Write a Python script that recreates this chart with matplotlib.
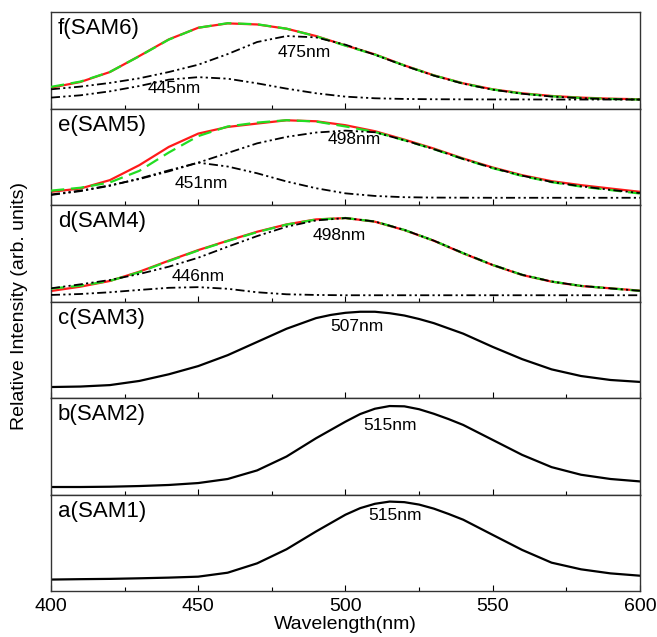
import numpy as np
import matplotlib
matplotlib.use("Agg")
import matplotlib.pyplot as plt

plt.rcParams['font.family'] = ['Liberation Sans', 'DejaVu Sans']

# wavelength grid for the fitted panels (nm)
wl = list(range(400, 601, 10))

# f(SAM6): measured, fit, components
f_meas = [0.217, 0.276, 0.379, 0.545, 0.717, 0.838, 0.883, 0.872, 0.828, 0.752, 0.655,
          0.562, 0.448, 0.345, 0.262, 0.200, 0.159, 0.131, 0.114, 0.103, 0.097]
f_fit = [0.225, 0.280, 0.380, 0.543, 0.715, 0.838, 0.885, 0.874, 0.828, 0.750, 0.652,
         0.560, 0.447, 0.344, 0.260, 0.198, 0.156, 0.128, 0.111, 0.100, 0.094]
f_475 = [0.200, 0.228, 0.266, 0.314, 0.379, 0.455, 0.565, 0.690, 0.752, 0.738, 0.662,
         0.558, 0.445, 0.342, 0.258, 0.196, 0.154, 0.125, 0.108, 0.098, 0.093]
f_445 = [0.114, 0.138, 0.179, 0.234, 0.300, 0.326, 0.310, 0.262, 0.207, 0.159, 0.124,
         0.107, 0.100, 0.097, 0.096, 0.095, 0.095, 0.094, 0.094, 0.094, 0.094]

# e(SAM5)
e_meas = [0.138, 0.172, 0.259, 0.414, 0.603, 0.741, 0.810, 0.845, 0.879, 0.869, 0.828,
          0.766, 0.679, 0.586, 0.483, 0.390, 0.310, 0.248, 0.207, 0.172, 0.138]
e_fit = [0.150, 0.180, 0.235, 0.355, 0.545, 0.715, 0.815, 0.855, 0.880, 0.866, 0.815,
         0.758, 0.672, 0.580, 0.478, 0.383, 0.302, 0.238, 0.192, 0.156, 0.120]
e_498 = [0.110, 0.150, 0.205, 0.270, 0.350, 0.440, 0.540, 0.640, 0.707, 0.752, 0.772,
         0.755, 0.672, 0.580, 0.478, 0.385, 0.305, 0.240, 0.195, 0.158, 0.125]
e_451 = [0.105, 0.145, 0.200, 0.275, 0.360, 0.440, 0.400, 0.330, 0.245, 0.175, 0.122,
         0.095, 0.082, 0.078, 0.077, 0.076, 0.076, 0.076, 0.076, 0.076, 0.076]

# d(SAM4)
d_meas = [0.110, 0.155, 0.214, 0.310, 0.424, 0.534, 0.631, 0.724, 0.800, 0.852, 0.866,
          0.828, 0.741, 0.631, 0.500, 0.379, 0.276, 0.207, 0.162, 0.138, 0.114]
d_fit = [0.135, 0.165, 0.215, 0.305, 0.420, 0.530, 0.628, 0.720, 0.798, 0.850, 0.866,
         0.830, 0.743, 0.632, 0.502, 0.380, 0.278, 0.208, 0.163, 0.137, 0.112]
d_498 = [0.138, 0.179, 0.224, 0.286, 0.362, 0.455, 0.569, 0.679, 0.776, 0.841, 0.866,
         0.830, 0.743, 0.632, 0.502, 0.380, 0.278, 0.208, 0.163, 0.137, 0.112]
d_446 = [0.069, 0.079, 0.097, 0.121, 0.143, 0.150, 0.133, 0.097, 0.076, 0.069, 0.066,
         0.066, 0.066, 0.066, 0.066, 0.066, 0.066, 0.066, 0.066, 0.066, 0.066]

# single-band samples (denser around the peak)
c_wl = [400, 410, 420, 430, 440, 450, 460, 470, 480, 490, 495, 500, 505, 510, 515,
        520, 525, 530, 540, 550, 560, 570, 580, 590, 600]
c_int = [0.115, 0.120, 0.135, 0.178, 0.247, 0.332, 0.445, 0.582, 0.719, 0.829, 0.862,
         0.884, 0.895, 0.895, 0.880, 0.856, 0.820, 0.777, 0.668, 0.531, 0.404, 0.298,
         0.229, 0.188, 0.168]
ab_wl = [400, 410, 420, 430, 440, 450, 460, 470, 480, 490, 500, 505, 510, 515, 520,
         525, 530, 535, 540, 550, 560, 570, 580, 590, 600]
b_int = [0.079, 0.079, 0.082, 0.089, 0.100, 0.120, 0.162, 0.251, 0.395, 0.584, 0.756,
         0.835, 0.890, 0.918, 0.915, 0.885, 0.838, 0.783, 0.722, 0.567, 0.412, 0.285,
         0.206, 0.162, 0.137]
a_int = [0.120, 0.124, 0.127, 0.133, 0.140, 0.150, 0.191, 0.288, 0.434, 0.618, 0.792,
         0.860, 0.905, 0.928, 0.922, 0.897, 0.855, 0.800, 0.740, 0.583, 0.427, 0.295,
         0.226, 0.184, 0.160]

# panel labels and peak annotations (wavelength, height)
fit_panels = [
    ("f(SAM6)", f_meas, f_fit, [f_475, f_445], [("475nm", 486, 0.585), ("445nm", 442, 0.213)]),
    ("e(SAM5)", e_meas, e_fit, [e_498, e_451], [("498nm", 503, 0.675), ("451nm", 451, 0.223)]),
    ("d(SAM4)", d_meas, d_fit, [d_498, d_446], [("498nm", 498, 0.688), ("446nm", 450, 0.26)]),
]
plain_panels = [
    ("c(SAM3)", c_wl, c_int, ("507nm", 504, 0.747)),
    ("b(SAM2)", ab_wl, b_int, ("515nm", 515, 0.72)),
    ("a(SAM1)", ab_wl, a_int, ("515nm", 517, 0.786)),
]

dashdotdot = (0, (5, 1.8, 1.2, 1.8, 1.2, 1.8))

fig, axes = plt.subplots(6, 1, sharex=True, figsize=(6.57, 6.37), dpi=100)
fig.subplots_adjust(left=0.0776, right=0.974, bottom=0.072, top=0.981, hspace=0)

for ax, (name, meas, fit, comps, notes) in zip(axes[:3], fit_panels):
    ax.plot(wl, meas, color="#ff1a1a", lw=1.6, zorder=2)
    ax.plot(wl, fit, color="#22dd22", lw=1.6, ls=(0, (6, 3)), zorder=3)
    for comp in comps:
        ax.plot(wl, comp, color="black", lw=1.3, ls=dashdotdot, zorder=4)
    ax.text(0.012, 0.83, name, transform=ax.transAxes, fontsize=16, va="center")
    for txt, x, y in notes:
        ax.text(x, y, txt, fontsize=12.5, ha="center", va="center")

for ax, (name, x, y, note) in zip(axes[3:], plain_panels):
    ax.plot(x, y, color="black", lw=1.6)
    ax.text(0.012, 0.83, name, transform=ax.transAxes, fontsize=16, va="center")
    ax.text(note[1], note[2], note[0], fontsize=12.5, ha="center", va="center")

for ax in axes:
    ax.set_xlim(400, 600)
    ax.set_ylim(0, 1)
    ax.set_yticks([])
    ax.set_xticks([400, 450, 500, 550, 600])
    ax.set_xticks([425, 475, 525, 575], minor=True)
    ax.tick_params(axis="x", which="major", direction="in", length=4, width=0.8,
                   labelsize=14, pad=5)
    ax.tick_params(axis="x", which="minor", direction="in", length=3, width=0.8)
    for sp in ax.spines.values():
        sp.set_color("#333333")
        sp.set_linewidth(1.0)

axes[-1].set_xlabel("Wavelength(nm)", fontsize=14, labelpad=1)
fig.text(0.03, 0.52, "Relative Intensity (arb. units)", rotation=90,
         fontsize=14, ha="center", va="center")

fig.savefig("out.png", dpi=100)
